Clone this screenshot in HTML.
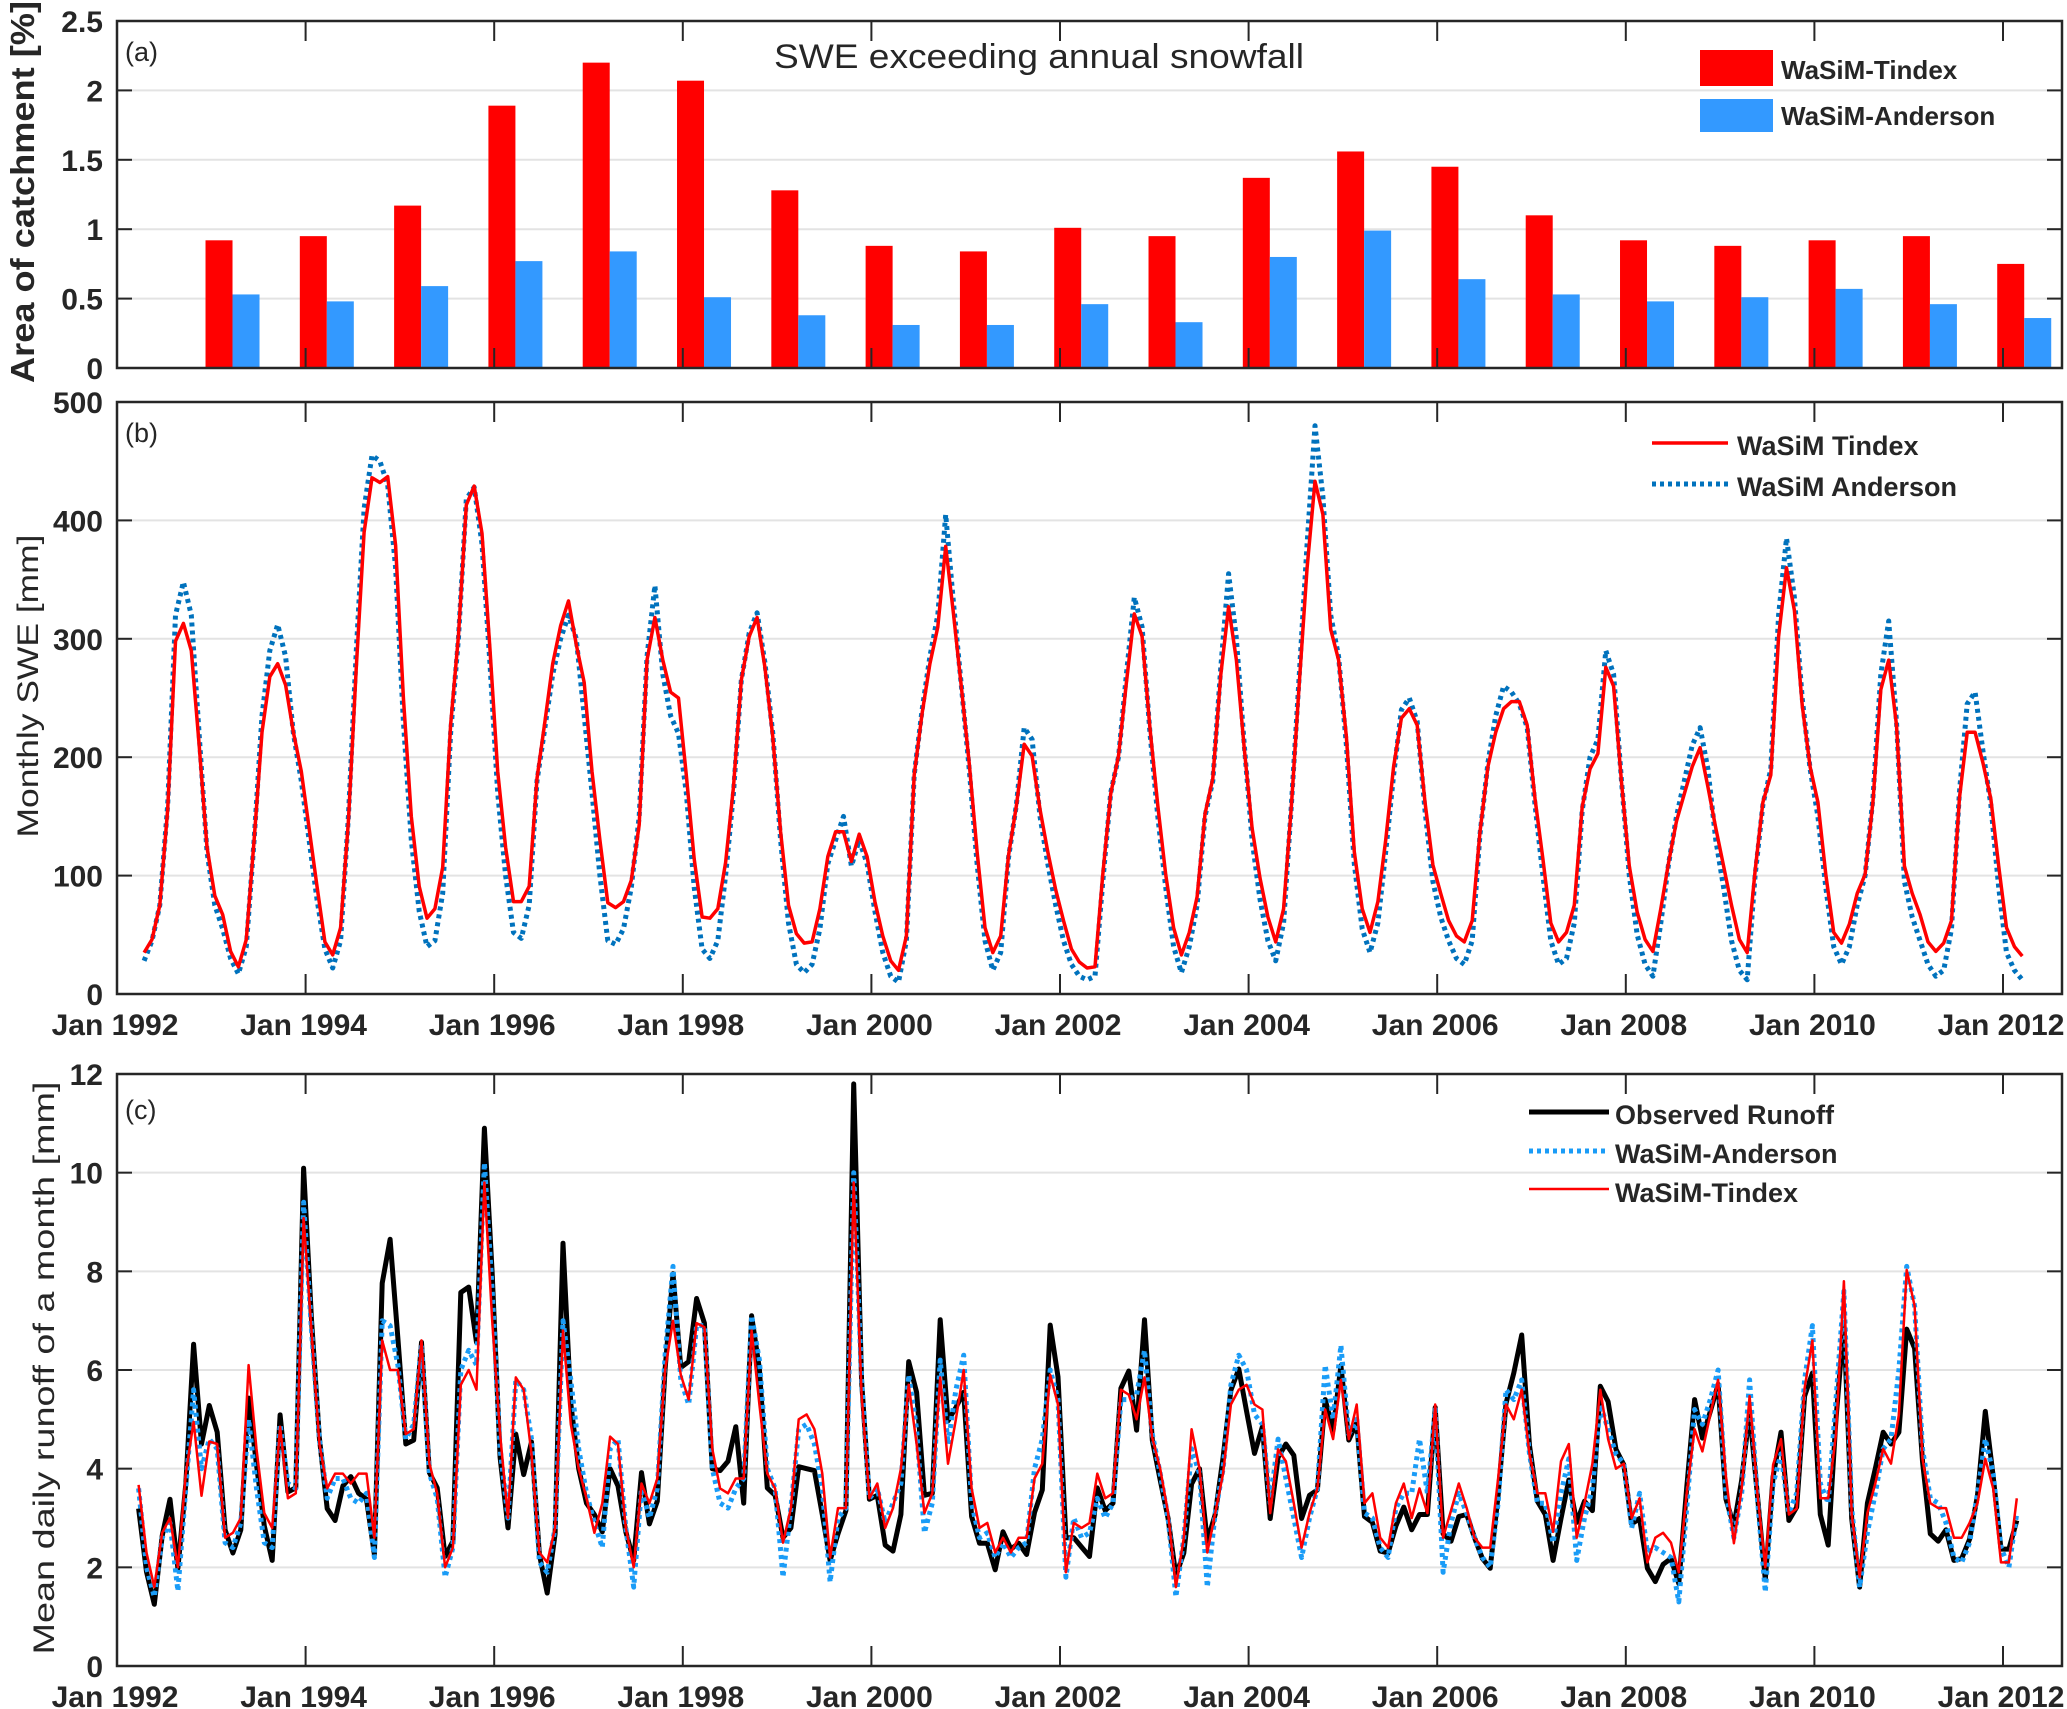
<!DOCTYPE html>
<html><head><meta charset="utf-8"><style>
html,body{margin:0;padding:0;background:#fff}
svg{display:block}
text{font-family:"Liberation Sans",sans-serif;fill:#262626}
</style></head><body>
<svg id="chart" width="2067" height="1709" viewBox="0 0 2067 1709" xmlns="http://www.w3.org/2000/svg">
<defs>
<clipPath id="clipB"><rect x="117" y="402" width="1945" height="592"/></clipPath>
<clipPath id="clipC"><rect x="117" y="1074" width="1945" height="592"/></clipPath>
</defs>
<g id="grid"></g>
<g id="marks"></g>
<g id="axes"></g>
<g id="labels">
<text x="125" y="61" font-size="27">(a)</text>
<text x="125" y="442" font-size="27">(b)</text>
<text x="125" y="1119" font-size="27">(c)</text>
<text x="1039" y="68" font-size="34" text-anchor="middle" textLength="530" lengthAdjust="spacingAndGlyphs">SWE exceeding annual snowfall</text>
<text transform="translate(34,192) rotate(-90)" font-size="33" font-weight="bold" text-anchor="middle" textLength="382" lengthAdjust="spacingAndGlyphs">Area of catchment [%]</text>
<text transform="translate(38,686) rotate(-90)" font-size="30" text-anchor="middle" textLength="303" lengthAdjust="spacingAndGlyphs">Monthly SWE [mm]</text>
<text transform="translate(54,1368) rotate(-90)" font-size="30" text-anchor="middle" textLength="573" lengthAdjust="spacingAndGlyphs">Mean daily runoff of a month [mm]</text>
</g>
<g id="legends">
<g>
<rect x="1700" y="50" width="73" height="36" fill="#ff0000"/>
<text x="1781" y="79" font-size="26" font-weight="bold">WaSiM-Tindex</text>
<rect x="1700" y="99" width="73" height="33" fill="#3399ff"/>
<text x="1781" y="125" font-size="26" font-weight="bold">WaSiM-Anderson</text>
</g>
<g>
<line x1="1652" y1="443" x2="1728" y2="443" stroke="#ff0000" stroke-width="3.5"/>
<text x="1737" y="455" font-size="27" font-weight="bold">WaSiM Tindex</text>
<line x1="1652" y1="484" x2="1728" y2="484" stroke="#0072bd" stroke-width="5" stroke-dasharray="4 4"/>
<text x="1737" y="496" font-size="27" font-weight="bold">WaSiM Anderson</text>
</g>
<g>
<line x1="1529" y1="1112" x2="1609" y2="1112" stroke="#000" stroke-width="5"/>
<text x="1615" y="1124" font-size="27" font-weight="bold">Observed Runoff</text>
<line x1="1529" y1="1151" x2="1609" y2="1151" stroke="#1a9cf7" stroke-width="5" stroke-dasharray="4 4"/>
<text x="1615" y="1163" font-size="27" font-weight="bold">WaSiM-Anderson</text>
<line x1="1529" y1="1189" x2="1609" y2="1189" stroke="#ff0000" stroke-width="2.5"/>
<text x="1615" y="1202" font-size="27" font-weight="bold">WaSiM-Tindex</text>
</g>
</g>
</svg>
<script>
// ---- Panel (a) data ----
const barGroups = [1993,1994,1995,1996,1997,1998,1999,2000,2001,2002,2003,2004,2005,2006,2007,2008,2009,2010,2011,2012];
const barTindex = [0.92,0.95,1.17,1.89,2.2,2.07,1.28,0.88,0.84,1.01,0.95,1.37,1.56,1.45,1.1,0.92,0.88,0.92,0.95,0.75];
const barAnderson = [0.53,0.48,0.59,0.77,0.84,0.51,0.38,0.31,0.31,0.46,0.33,0.8,0.99,0.64,0.53,0.48,0.51,0.57,0.46,0.36];
const aTicks = [0,0.5,1,1.5,2,2.5];
const aTickLabels = ["0","0.5","1","1.5","2","2.5"];
// ---- Panel (b) data: monthly SWE, months 3..242 since Jan 1992 ----
const sweStartMonth = 3;
const sweTindex = [35,46,75,156,298,313,290,211,124,83,
67,36,23,46,130,221,268,279,261,221,
188,140,91,44,33,56,146,276,390,436,
432,437,379,250,150,91,64,72,107,227,
302,413,429,389,292,188,124,78,78,91,
182,230,279,311,332,295,263,188,130,77,
73,78,96,143,282,318,282,255,250,185,
114,65,64,72,111,175,265,302,318,
276,217,137,75,51,43,44,72,116,137,
137,112,135,116,78,49,28,20,49,185,
237,279,310,378,321,259,195,120,56,35,
49,117,159,211,201,156,120,88,62,38,
27,22,23,101,169,201,263,321,302,224,
159,101,56,33,52,82,152,182,269,327,
282,207,140,98,65,44,72,159,263,360,
433,405,308,282,217,120,72,52,78,130,
192,
233,241,227,162,109,85,62,49,44,62,
137,192,221,241,247,247,227,165,114,60,
44,52,75,158,190,203,276,260,179,108,
69,46,36,72,111,146,169,192,208,175,
140,108,75,46,35,104,162,185,302,360,
324,244,192,162,101,52,43,59,85,101,
162,257,282,227,108,85,67,44,36,43,
62,165,221,221,195,165,108,56,40,32];
const sweAnderson = [28,45,75,160,320,348,320,220,120,75,
55,30,17,40,130,235,290,312,285,220,
180,130,80,38,22,45,150,290,410,455,
450,430,360,230,130,70,40,45,85,220,
300,418,428,380,280,170,100,52,47,75,
180,225,270,300,320,300,235,170,100,45,
42,55,90,150,285,345,270,235,220,170,
90,38,30,45,100,170,265,305,322,
280,220,130,60,25,18,25,55,110,130,
150,108,130,110,70,35,15,10,45,185,
240,285,320,405,330,260,190,110,45,20,
35,115,160,225,215,150,110,75,45,25,
15,12,15,95,170,200,270,335,310,220,
150,90,40,18,40,75,150,180,275,355,
300,210,130,80,45,28,60,160,270,380,
480,420,320,285,210,110,55,35,60,120,
185,
240,250,230,155,95,65,45,30,25,45,
135,195,235,260,255,245,225,160,100,45,
25,30,60,155,200,215,290,270,180,100,
50,25,15,60,110,150,180,210,225,190,
130,90,45,20,12,100,160,190,320,385,
335,250,190,150,90,40,25,40,75,100,
165,270,315,230,95,65,45,25,15,20,
55,170,245,255,205,160,90,35,20,12];
const bTicks = [0,100,200,300,400,500];
// ---- Panel (c) data: mean daily runoff, months 3..242 ----
const runoffStartMonth = 3;
const runoffObserved = [3.19,1.91,1.25,2.64,3.38,1.98,3.69,6.52,4.5,5.28,
4.74,2.76,2.29,2.76,5.43,4.08,2.84,2.14,5.09,3.53,
3.61,10.09,7.02,4.62,3.19,2.95,3.65,3.84,3.5,3.38,
2.26,7.76,8.65,6.64,4.5,4.58,6.56,3.92,3.61,2.22,
2.53,7.57,7.68,6.56,10.9,7.95,4.23,2.8,4.7,3.88,
4.54,2.26,1.48,2.68,8.57,5.32,4.0,3.3,3.07,2.72,
4.0,3.65,2.72,2.14,3.92,2.88,3.34,6.02,7.95,6.05,
6.17,7.45,6.95,4.0,3.96,4.15,4.85,3.3,7.1,6.02,
3.61,3.46,2.6,2.8,4.04,4.0,3.96,3.07,2.14,2.68,
3.15,11.8,5.78,3.38,3.46,2.45,2.33,3.07,6.17,5.55,
3.46,3.5,7.02,4.97,5.24,5.55,3.03,2.49,2.49,1.95,
2.72,2.37,2.49,2.26,3.11,3.57,6.91,5.86,2.6,2.6,
2.41,2.22,3.61,3.15,3.3,5.63,5.98,4.78,7.02,4.58,
3.77,2.99,1.83,2.29,3.69,4.0,2.53,3.07,4.23,5.59,
6.02,5.16,4.31,4.85,2.99,4.23,4.5,4.27,2.99,3.46,
3.57,5.4,4.78,6.09,4.58,4.93,3.03,2.91,2.33,2.29,
2.84,3.22,2.76,3.07,3.07,5.24,2.68,2.53,3.03,3.07,
2.6,2.18,1.98,3.46,5.32,5.94,6.71,4.47,3.34,3.07,
2.14,2.99,3.77,2.91,3.34,3.15,5.67,5.36,4.39,4.08,
2.88,2.99,1.98,1.71,2.06,2.18,1.67,3.61,5.4,4.62,
5.16,5.71,3.38,2.84,3.77,5.16,3.46,1.75,3.84,4.74,
2.95,3.22,5.47,5.94,3.07,2.45,5.01,6.95,2.99,1.6,
3.3,4.0,4.74,4.5,4.74,6.83,6.44,4.15,2.68,2.53,
2.76,2.14,2.18,2.57,3.46,5.16,3.84,2.37,2.37,2.95];
const runoffTindex = [3.67,2.3,1.6,2.7,3.0,2.0,3.9,4.95,3.45,4.55,
4.5,2.6,2.7,3.0,6.1,4.4,3.1,2.8,4.85,3.4,
3.5,9.08,6.8,4.5,3.6,3.9,3.9,3.7,3.9,3.9,
2.6,6.6,6.0,6.0,4.7,4.8,6.6,4.1,3.5,2.0,
2.4,5.7,6.0,5.6,9.8,7.0,4.7,3.0,5.85,5.6,
4.3,2.3,2.1,2.8,6.8,4.9,4.0,3.4,2.7,3.3,
4.65,4.5,2.8,2.0,3.7,3.3,3.8,6.0,7.0,5.9,
5.4,6.95,6.87,4.4,3.6,3.5,3.8,3.8,6.8,5.3,
3.9,3.6,2.5,3.2,5.0,5.1,4.8,3.9,2.2,3.2,
3.2,9.8,5.5,3.4,3.7,2.8,3.2,4.0,5.7,4.5,
3.1,3.5,5.85,4.1,5.0,6.0,3.6,2.8,2.9,2.3,
2.6,2.3,2.6,2.6,3.8,4.1,5.9,5.3,1.9,2.9,
2.8,2.9,3.9,3.4,3.5,5.6,5.5,5.0,5.85,4.62,
4.0,3.1,1.6,2.6,4.8,4.0,2.3,3.1,3.9,5.3,
5.6,5.7,5.3,5.2,3.1,4.39,4.15,3.3,2.4,3.1,
3.6,5.2,4.6,5.8,4.6,5.3,3.3,3.5,2.6,2.4,
3.3,3.7,3.0,3.6,3.1,5.3,2.6,3.15,3.7,3.2,
2.6,2.4,2.4,3.8,5.3,5.0,5.6,4.3,3.5,3.5,
2.72,4.15,4.5,2.6,3.3,4.1,5.6,4.6,4.0,4.1,
3.0,3.4,2.1,2.6,2.7,2.5,1.9,3.5,4.8,4.35,
5.1,5.8,3.84,2.49,3.6,5.47,3.5,2.0,4.08,4.6,
3.07,3.19,5.63,6.6,3.4,3.4,4.7,7.8,3.07,1.8,
3.1,3.7,4.4,4.1,5.1,8.03,7.3,4.2,3.3,3.2,
3.2,2.6,2.6,2.9,3.3,4.2,3.6,2.1,2.1,3.4];
const runoffAnderson = [3.6,2.0,1.4,2.6,2.9,1.52,3.6,5.6,4.0,4.6,
4.4,2.5,2.4,2.9,5.0,3.6,2.5,2.4,4.9,3.7,
3.6,9.4,6.8,4.6,3.4,3.8,3.8,3.4,3.3,3.5,
2.2,7.0,6.9,6.1,4.6,4.9,6.5,3.9,3.4,1.8,
2.4,6.0,6.4,6.1,10.2,7.6,4.4,3.0,5.8,5.6,
4.6,2.1,1.9,2.8,7.0,5.8,4.4,3.5,2.9,2.4,
4.4,4.6,2.8,1.6,3.6,3.0,3.6,6.3,8.1,5.8,
5.3,6.9,6.9,4.0,3.3,3.2,3.6,3.8,7.1,6.2,
4.0,3.6,1.8,3.2,4.8,4.9,4.5,3.6,1.7,3.0,
3.2,10.0,5.8,3.4,3.6,2.9,3.3,3.7,5.9,4.8,
2.7,3.3,6.2,4.5,5.6,6.3,3.3,2.6,2.7,2.2,
2.5,2.2,2.4,2.5,4.0,4.6,6.0,5.4,1.8,3.0,
2.6,2.7,3.4,3.0,3.3,5.4,5.4,5.5,6.4,4.7,
3.9,3.0,1.4,2.6,4.4,3.9,1.6,3.1,4.0,5.7,
6.3,6.0,5.1,4.9,3.3,4.6,3.8,3.0,2.2,3.0,
3.6,6.1,5.0,6.5,4.7,5.0,3.1,3.0,2.4,2.2,
3.2,3.5,3.5,4.6,3.5,5.2,1.9,2.9,3.5,3.1,
2.6,2.2,2.0,3.3,5.6,5.4,5.8,4.3,3.3,3.3,
2.5,3.5,4.2,2.14,3.0,3.6,5.3,4.8,4.3,4.1,
2.8,3.5,2.3,2.4,2.3,2.2,1.3,3.2,5.2,4.9,
5.4,6.0,3.5,2.6,3.5,5.8,3.4,1.5,3.7,4.3,
3.1,3.5,5.8,6.9,3.7,3.3,5.4,7.6,3.2,1.6,
2.7,3.5,4.4,4.6,6.0,8.1,7.3,4.4,3.4,3.3,
2.9,2.2,2.1,2.5,3.5,4.6,3.9,2.4,2.0,3.1];
const cTicks = [0,2,4,6,8,10,12];
const xTickYears = [1992,1994,1996,1998,2000,2002,2004,2006,2008,2010,2012];

const NS = "http://www.w3.org/2000/svg";
const L = 117, R = 2062;
const panels = {
  a: {top: 21, bottom: 368, max: 2.5},
  b: {top: 402, bottom: 994, max: 500},
  c: {top: 1074, bottom: 1666, max: 12}
};
function xT(t) { return L + (t - 1992) * 94.3; }
function yP(p, v) { const q = panels[p]; return q.bottom - v / q.max * (q.bottom - q.top); }
function mk(tag, attrs, parent) {
  const el = document.createElementNS(NS, tag);
  for (const k in attrs) el.setAttribute(k, attrs[k]);
  parent.appendChild(el);
  return el;
}
const grid = document.getElementById('grid');
const marks = document.getElementById('marks');
const axes = document.getElementById('axes');

function drawAxes(p, ticks, labels, showX) {
  const q = panels[p];
  ticks.forEach((v, i) => {
    const y = yP(p, v);
    if (v > 0 && v < q.max) {
      const g = mk('line', {x1: L, x2: R, y1: y, y2: y, stroke: '#e3e3e3', 'stroke-width': 2}, grid);
      
      
    }
    mk('line', {x1: L, x2: L + 15, y1: y, y2: y, stroke: '#262626', 'stroke-width': 2}, axes);
    mk('line', {x1: R - 15, x2: R, y1: y, y2: y, stroke: '#262626', 'stroke-width': 2}, axes);
    const t = mk('text', {x: 103, y: y + 11, 'font-size': 30, 'font-weight': 'bold', 'text-anchor': 'end'}, axes);
    t.textContent = labels[i];
    
    
  });
  xTickYears.forEach(yr => {
    const x = xT(yr);
    mk('line', {x1: x, x2: x, y1: q.bottom, y2: q.bottom - 20, stroke: '#262626', 'stroke-width': 2}, axes);
    mk('line', {x1: x, x2: x, y1: q.top, y2: q.top + 20, stroke: '#262626', 'stroke-width': 2}, axes);
    if (showX) {
      const t = mk('text', {x: x - 2, y: q.bottom + 41, 'font-size': 30, 'font-weight': 'bold', 'text-anchor': 'middle'}, axes);
      t.textContent = 'Jan ' + yr;
      
      
    }
  });
  const box = mk('rect', {x: L, y: q.top, width: R - L, height: q.bottom - q.top, fill: 'none', stroke: '#262626', 'stroke-width': 2.5}, axes);
  
  
}
drawAxes('a', aTicks, aTickLabels, false);
drawAxes('b', bTicks, bTicks.map(String), true);
drawAxes('c', cTicks, cTicks.map(String), true);

// bars
const bw = 27;
barGroups.forEach((yr, i) => {
  const cx = xT(yr + 0.225);
  const r = mk('rect', {x: cx - bw, y: yP('a', barTindex[i]), width: bw, height: yP('a', 0) - yP('a', barTindex[i]), fill: '#ff0000'}, marks);
  
  
  const b = mk('rect', {x: cx, y: yP('a', barAnderson[i]), width: bw, height: yP('a', 0) - yP('a', barAnderson[i]), fill: '#3399ff'}, marks);
  
  
});

function line(p, arr, start, off, attrs, name, clip) {
  const pts = arr.map((v, i) => xT(1992 + (start + i + off) / 12).toFixed(1) + ',' + yP(p, v).toFixed(1)).join(' ');
  const a = Object.assign({points: pts, fill: 'none', 'stroke-linejoin': 'round', 'clip-path': clip}, attrs);
  const el = mk('polyline', a, marks);
  
  
}
line('b', sweAnderson, sweStartMonth, 0.45, {stroke: '#0072bd', 'stroke-width': 5, 'stroke-dasharray': '4 4'}, 'swe-anderson-line', 'url(#clipB)');
line('b', sweTindex, sweStartMonth, 0.45, {stroke: '#ff0000', 'stroke-width': 3.5}, 'swe-tindex-line', 'url(#clipB)');
line('c', runoffObserved, runoffStartMonth, -0.25, {stroke: '#000000', 'stroke-width': 5}, 'observed-runoff-line', 'url(#clipC)');
line('c', runoffAnderson, runoffStartMonth, -0.25, {stroke: '#1a9cf7', 'stroke-width': 5, 'stroke-dasharray': '4 4'}, 'runoff-anderson-line', 'url(#clipC)');
line('c', runoffTindex, runoffStartMonth, -0.25, {stroke: '#ff0000', 'stroke-width': 2.5}, 'runoff-tindex-line', 'url(#clipC)');
</script>
</body></html>
